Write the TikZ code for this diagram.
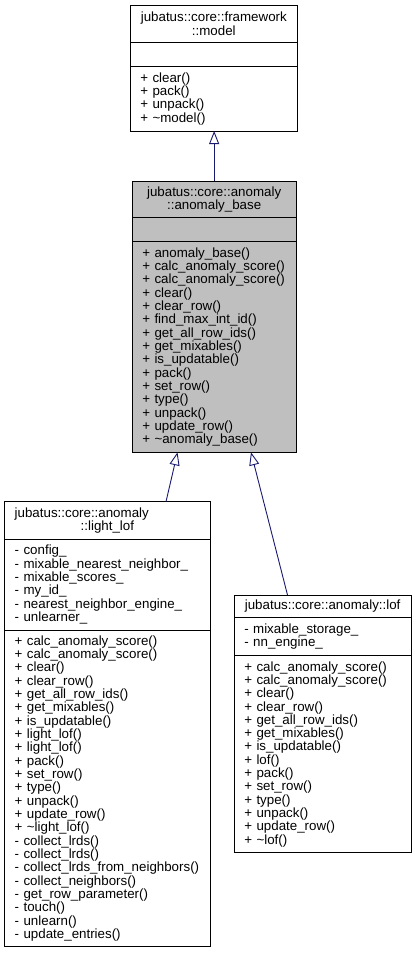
\documentclass[tikz,border=0pt]{standalone}
\usepackage{fontspec}
\setmainfont{Liberation Sans}
\usepackage{tikz}
\usetikzlibrary{positioning, arrows.meta}

\definecolor{edgeblue}{HTML}{191970}
\definecolor{basegray}{HTML}{BFBFBF}
\newcommand{\umlfont}{\fontsize{13.33}{13.33}\selectfont}

\begin{document}
\begin{tikzpicture}[
    x=1pt, y=-1pt,
    cls/.style={draw=black, line width=0.9pt, outer sep=0pt, inner xsep=10pt,
                inner ysep=0pt, font=\umlfont, align=left},
    clstitle/.style={cls, align=center},
    inherit/.style={draw=edgeblue, line width=0.9pt,
                    -{Triangle[open, length=13pt, width=10pt]}}
]
\useasboundingbox (0,0) rectangle (416,953);

% framework::model
\node[clstitle, text width=147pt, minimum height=37.7pt, anchor=north west] (model-title)
    at (130.3,5) {jubatus::core::framework\\::model};
\node[cls, text width=147pt, minimum height=24pt, below=0pt of model-title] (model-attr) {};
\node[cls, text width=147pt, minimum height=64.3pt, below=0pt of model-attr] (model-ops)
    {+~clear()\\+~pack()\\+~unpack()\\+~\textasciitilde model()};

% anomaly::anomaly_base
\node[clstitle, fill=basegray, text width=143.7pt, minimum height=36.7pt, anchor=north west] (base-title)
    at (132.3,181) {jubatus::core::anomaly\\::anomaly\_base};
\node[cls, fill=basegray, text width=143.7pt, minimum height=24pt, below=0pt of base-title] (base-attr) {};
\node[cls, fill=basegray, text width=143.7pt, minimum height=210.6pt, below=0pt of base-attr] (base-ops)
    {+~anomaly\_base()\\+~calc\_anomaly\_score()\\+~calc\_anomaly\_score()\\+~clear()\\
     +~clear\_row()\\+~find\_max\_int\_id()\\+~get\_all\_row\_ids()\\+~get\_mixables()\\
     +~is\_updatable()\\+~pack()\\+~set\_row()\\+~type()\\+~unpack()\\+~update\_row()\\
     +~\textasciitilde anomaly\_base()};

% anomaly::light_lof
\node[cls, text width=185.3pt, minimum height=37.3pt, anchor=north west] (ll-title)
    at (4.7,501.7) {jubatus::core::anomaly\par\hbox to\hsize{\hfil ::light\_lof\hfil}};
\node[cls, text width=185.3pt, minimum height=91pt, below=0pt of ll-title] (ll-attr)
    {-~config\_\\-~mixable\_nearest\_neighbor\_\\-~mixable\_scores\_\\-~my\_id\_\\
     -~nearest\_neighbor\_engine\_\\-~unlearner\_};
\node[cls, text width=185.3pt, minimum height=316.7pt, below=0pt of ll-attr] (ll-ops)
    {+~calc\_anomaly\_score()\\+~calc\_anomaly\_score()\\+~clear()\\+~clear\_row()\\
     +~get\_all\_row\_ids()\\+~get\_mixables()\\+~is\_updatable()\\+~light\_lof()\\
     +~light\_lof()\\+~pack()\\+~set\_row()\\+~type()\\+~unpack()\\+~update\_row()\\
     +~\textasciitilde light\_lof()\\-~collect\_lrds()\\-~collect\_lrds()\\
     -~collect\_lrds\_from\_neighbors()\\-~collect\_neighbors()\\-~get\_row\_parameter()\\
     -~touch()\\-~unlearn()\\-~update\_entries()};

% anomaly::lof
\node[clstitle, text width=156.7pt, minimum height=22.7pt, anchor=north west] (lof-title)
    at (234.3,595) {jubatus::core::anomaly::lof};
\node[cls, text width=156.7pt, minimum height=38pt, below=0pt of lof-title] (lof-attr)
    {-~mixable\_storage\_\\-~nn\_engine\_};
\node[cls, text width=156.7pt, minimum height=197pt, below=0pt of lof-attr] (lof-ops)
    {+~calc\_anomaly\_score()\\+~calc\_anomaly\_score()\\+~clear()\\+~clear\_row()\\
     +~get\_all\_row\_ids()\\+~get\_mixables()\\+~is\_updatable()\\+~lof()\\+~pack()\\
     +~set\_row()\\+~type()\\+~unpack()\\+~update\_row()\\+~\textasciitilde lof()};

% inheritance
\draw[inherit] (base-title.north) -- (base-title.north |- model-ops.south);
\draw[inherit] ([xshift=161.3pt]ll-title.north west) -- ([xshift=45.2pt]base-ops.south west);
\draw[inherit] ([xshift=53.2pt]lof-title.north west) -- ([xshift=118.7pt]base-ops.south west);
\end{tikzpicture}
\end{document}
